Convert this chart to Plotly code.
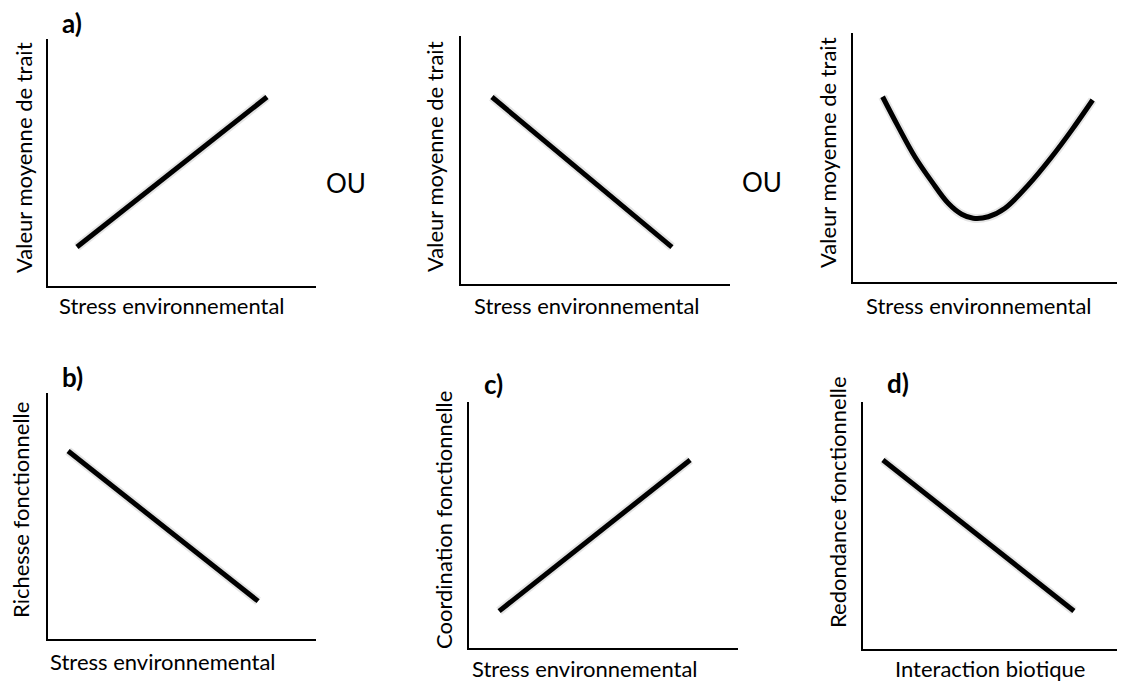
import plotly.graph_objects as go

W, H = 1125, 684
PAGE_OFFSET = 8  # default body margin of the html page

# ---- data (conceptual relationships, in arbitrary 0-10 units) ----
a_x = [1.08, 8.17]
a_y = [1.58, 7.65]

a2_x = [1.15, 7.84]
a2_y = [7.54, 1.49]

a3_x = [1.10, 1.68, 2.30, 2.93, 3.54, 4.04, 4.47, 5.03, 5.65, 6.52, 7.39, 8.13, 8.91]
a3_y = [7.44, 6.24, 5.03, 4.03, 3.16, 2.72, 2.56, 2.62, 2.96, 3.90, 5.03, 6.10, 7.31]

b_x = [0.75, 7.84]
b_y = [7.64, 1.54]

c_x = [1.12, 8.22]
c_y = [1.50, 7.64]

d_x = [0.74, 7.84]
d_y = [7.65, 1.54]

y_titles = ["Valeur moyenne de trait", "Valeur moyenne de trait", "Valeur moyenne de trait",
            "Richesse fonctionnelle", "Coordination fonctionnelle", "Redondance fonctionnelle"]
x_titles = ["Stress environnemental", "Stress environnemental", "Stress environnemental",
            "Stress environnemental", "Stress environnemental", "Interaction biotique"]
panel_tags = ["a)", "b)", "c)", "d)"]
connector = "OU"

series = [(a_x, a_y, "linear"), (a2_x, a2_y, "linear"), (a3_x, a3_y, "spline"),
          (b_x, b_y, "linear"), (c_x, c_y, "linear"), (d_x, d_y, "linear")]

# ---- layout boxes in screen pixels: (left, right, top, bottom) ----
boxes = [(48, 316, 39, 286), (461, 730, 36, 284), (853, 1122, 33, 282),
         (48, 316, 393, 639), (469, 738, 402, 648), (863, 1124, 402, 649)]
xmax = [10, 10, 10, 10, 10, (1124 - 863) / 26.9]

def px(x):
    return (x - PAGE_OFFSET) / W

def py(y):
    return 1 - (y - PAGE_OFFSET) / H

FONT = "Lato, 'Open Sans', sans-serif"

fig = go.Figure()
layout = dict(width=W, height=H, margin=dict(l=0, r=0, t=0, b=0),
              paper_bgcolor="white", plot_bgcolor="white", showlegend=False)

for i, ((xs, ys, shape), (l, r, t, b)) in enumerate(zip(series, boxes)):
    n = "" if i == 0 else str(i + 1)
    xa, ya = "x" + n, "y" + n
    # soft shadow
    fig.add_trace(go.Scatter(x=xs, y=ys, mode="lines", xaxis=xa, yaxis=ya,
                             line=dict(color="rgba(0,0,0,0.10)", width=9, shape=shape),
                             hoverinfo="skip"))
    fig.add_trace(go.Scatter(x=xs, y=ys, mode="lines", xaxis=xa, yaxis=ya,
                             line=dict(color="black", width=5, shape=shape)))
    ax_common = dict(showgrid=False, zeroline=False, showticklabels=False, ticks="",
                     showline=True, linecolor="black", linewidth=2, fixedrange=True)
    layout["xaxis" + n] = dict(domain=[px(l), px(r)], range=[0, xmax[i]],
                               anchor=ya, **ax_common)
    layout["yaxis" + n] = dict(domain=[py(b), py(t)], range=[0, 10],
                               anchor=xa, **ax_common)

fig.update_layout(**layout)

ann = []
ytitle_pos = [(23, 158), (435, 157), (827, 153), (20, 510), (443, 520), (837, 502)]
xtitle_pos = [(172, 306), (587, 305), (979, 305), (163, 661), (585, 668), (990, 668)]
for txt, (x, y) in zip(y_titles, ytitle_pos):
    ann.append(dict(text=txt, x=px(x), y=py(y), xref="paper", yref="paper",
                    showarrow=False, textangle=-90, xanchor="center", yanchor="middle",
                    font=dict(family=FONT, size=22, color="black")))
for txt, (x, y) in zip(x_titles, xtitle_pos):
    ann.append(dict(text=txt, x=px(x), y=py(y), xref="paper", yref="paper",
                    showarrow=False, xanchor="center", yanchor="middle",
                    font=dict(family=FONT, size=22, color="black")))
tag_pos = [(72, 23), (72, 377), (493, 384), (898, 383)]
for txt, (x, y) in zip(panel_tags, tag_pos):
    ann.append(dict(text="<b>" + txt + "</b>", x=px(x), y=py(y), xref="paper", yref="paper",
                    showarrow=False, xanchor="center", yanchor="middle",
                    font=dict(family=FONT, size=26, color="black")))
for (x, y) in [(346, 183), (762, 182)]:
    ann.append(dict(text=connector, x=px(x), y=py(y), xref="paper", yref="paper",
                    showarrow=False, xanchor="center", yanchor="middle",
                    font=dict(family=FONT, size=26, color="black")))
fig.update_layout(annotations=ann)

fig.write_html("out.html")
